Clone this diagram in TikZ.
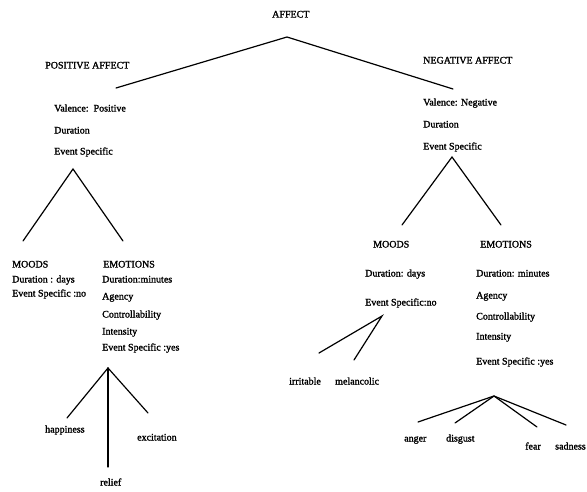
\documentclass[tikz,border=0pt]{standalone}
\usepackage{fontspec}
\setmainfont[FakeBold=1.6]{Liberation Serif}
\begin{document}
\begin{tikzpicture}[x=1pt,y=-1pt,
  lbl/.style={anchor=west,inner sep=0pt,font=\fontsize{10}{12}\selectfont,text height=7pt,text depth=2pt},
  edge/.style={line width=1.2pt,line cap=round}]
\useasboundingbox (0,0) rectangle (587,492);
% texts
\node[lbl] (affect) at (272,15) {AFFECT};
\node[lbl] (posaff) at (45,66) {POSITIVE AFFECT};
\node[lbl] (posval) at (54,109) {Valence:\ \ Positive};
\node[lbl] (posdur) at (54,131) {Duration};
\node[lbl] (posev) at (54,152) {Event Specific};
\node[lbl] (negaff) at (423,61) {NEGATIVE AFFECT};
\node[lbl] (negval) at (423,103) {Valence: Negative};
\node[lbl] (negdur) at (423,125) {Duration};
\node[lbl] (negev) at (423,147) {Event Specific};
\node[lbl] (pmoods) at (12,265) {MOODS};
\node[lbl] (pmdur) at (12,280) {Duration : days};
\node[lbl] (pmev) at (12,294) {Event Specific :no};
\node[lbl] (pemo) at (103,265) {EMOTIONS};
\node[lbl] (pedur) at (102,280) {Duration:minutes};
\node[lbl] (peag) at (102,297) {Agency};
\node[lbl] (pecon) at (102,315) {Controllability};
\node[lbl] (peint) at (102,332) {Intensity};
\node[lbl] (peev) at (102,348) {Event Specific :yes};
\node[lbl] (happy) at (45,430) {happiness};
\node[lbl] (excit) at (137,438) {excitation};
\node[lbl] (relief) at (100,483) {relief};
\node[lbl] (nmoods) at (373,245) {MOODS};
\node[lbl] (nmdur) at (365,274) {Duration: days};
\node[lbl] (nmev) at (365,303) {Event Specific:no};
\node[lbl] (irrit) at (289,382) {irritable};
\node[lbl] (melan) at (335,382) {melancolic};
\node[lbl] (nemo) at (480,245) {EMOTIONS};
\node[lbl] (nedur) at (476,274) {Duration: minutes};
\node[lbl] (neag) at (476,296) {Agency};
\node[lbl] (necon) at (476,317) {Controllability};
\node[lbl] (neint) at (476,337) {Intensity};
\node[lbl] (neev) at (476,362) {Event Specific :yes};
\node[lbl] (anger) at (404,439) {anger};
\node[lbl] (disg) at (446,439) {disgust};
\node[lbl] (fear) at (525,447) {fear};
\node[lbl] (sad) at (555,447) {sadness};
% connector points
\coordinate (aApex) at (287,37);
\coordinate (aL) at (116,88);
\coordinate (aR) at (453,89);
\coordinate (pApex) at (73,169);
\coordinate (pL) at (23,241);
\coordinate (pR) at (123,241);
\coordinate (peApex) at (108,368);
\coordinate (peH) at (67,418);
\coordinate (peE) at (148,413);
\coordinate (peR) at (108,467);
\coordinate (nApex) at (452,157);
\coordinate (nL) at (402,225);
\coordinate (nR) at (501,225);
\coordinate (nmApex) at (382,316);
\coordinate (nmI) at (319,353);
\coordinate (nmM) at (354,360);
\coordinate (neApex) at (494,396);
\coordinate (neA) at (418,422);
\coordinate (neD) at (455,423);
\coordinate (neF) at (537,427);
\coordinate (neS) at (566,425);
% connectors
\draw[edge] (aL) -- (aApex) -- (aR);
\draw[edge] (pL) -- (pApex) -- (pR);
\draw[edge] (peH) -- (peApex) -- (peE);
\draw[edge] (peApex) -- (peR);
\draw[edge] (nL) -- (nApex) -- (nR);
\draw[edge] (nmI) -- (nmApex) -- (nmM);
\draw[edge] (neA) -- (neApex) -- (neS);
\draw[edge] (neApex) -- (neD);
\draw[edge] (neApex) -- (neF);
\end{tikzpicture}
\end{document}
